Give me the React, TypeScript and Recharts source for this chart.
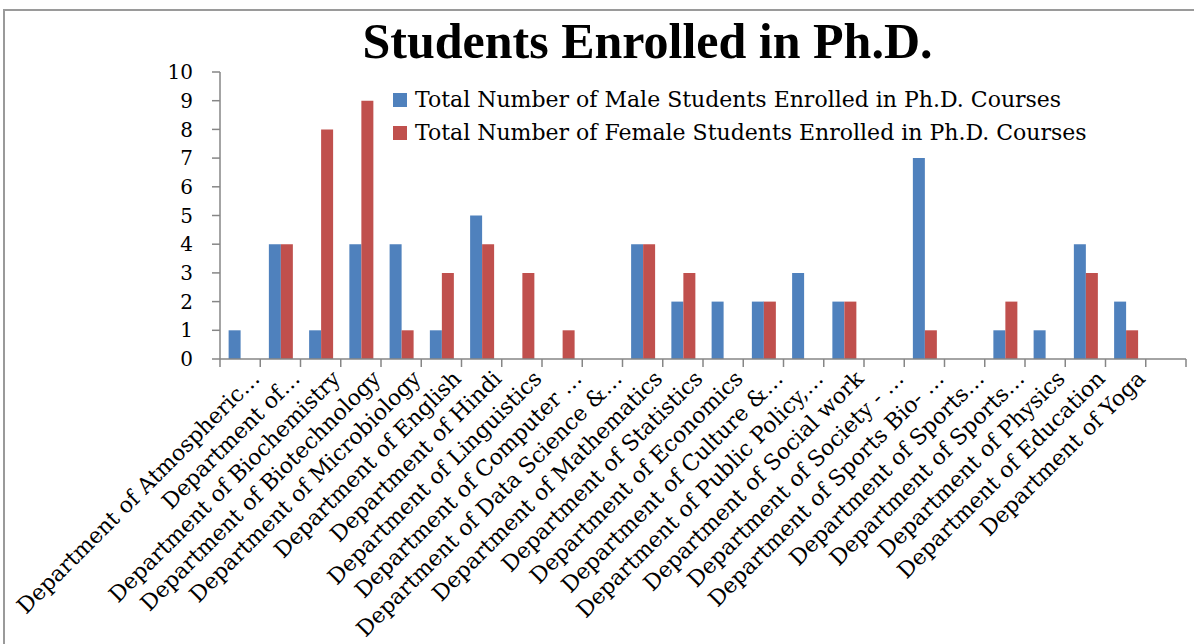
import React from 'react';
import { BarChart, Bar, XAxis, YAxis, Legend } from 'recharts';

const departments = [
  'Department of Atmospheric…',
  'Department of…',
  'Department of Biochemistry',
  'Department of Biotechnology',
  'Department of Microbiology',
  'Department of English',
  'Department of Hindi',
  'Department of Linguistics',
  'Department of Computer …',
  'Department of Data Science &…',
  'Department of Mathematics',
  'Department of Statistics',
  'Department of Economics',
  'Department of Culture &…',
  'Department of Public Policy,…',
  'Department of Social work',
  'Department of Society - …',
  'Department of Sports Bio- …',
  'Department of Sports…',
  'Department of Sports…',
  'Department of Physics',
  'Department of Education',
  'Department of Yoga',
  '',
];

const maleCounts = [1, 4, 1, 4, 4, 1, 5, 0, 0, 0, 4, 2, 2, 2, 3, 2, 0, 7, 0, 1, 1, 4, 2, 0];
const femaleCounts = [0, 4, 8, 9, 1, 3, 4, 3, 1, 0, 4, 3, 0, 2, 0, 2, 0, 1, 0, 2, 0, 3, 1, 0];

const yTicks = [0, 1, 2, 3, 4, 5, 6, 7, 8, 9, 10];

const seriesKeys = ['male', 'female'];
const maleName = 'Total Number of Male Students Enrolled in Ph.D. Courses';
const femaleName = 'Total Number of Female Students Enrolled in Ph.D. Courses';

const data = departments.map((d, i) => ({
  idx: i,
  male: maleCounts[i],
  female: femaleCounts[i],
}));

const W = 1194;
const H = 644;
const M = { top: 72, right: 8, left: 160, bottom: 0 };
const Y_W = 60;
const X_H = 285;
const plotW = W - M.left - M.right - Y_W;
const band = plotW / departments.length;
const AXIS = '#868686';
const FONT = '"DejaVu Serif", serif';

const XTick = (props: any) => {
  const { x, y, payload } = props;
  const i = payload.value as number;
  const label = departments[i] ?? '';
  return (
    <g>
      <line x1={x - band / 2} x2={x - band / 2} y1={y} y2={y + 8} stroke={AXIS} strokeWidth={1.5} />
      {i === departments.length - 1 && (
        <line x1={x + band / 2} x2={x + band / 2} y1={y} y2={y + 8} stroke={AXIS} strokeWidth={1.5} />
      )}
      {label && (
        <text
          transform={`translate(${x + 21},${y + 21}) rotate(-45)`}
          textAnchor="end"
          fontFamily={FONT}
          fontSize={22}
          fill="#000"
        >
          {label}
        </text>
      )}
    </g>
  );
};

const renderLegend = (props: any) => {
  const payload = [...(props.payload || [])].sort(
    (a: any, b: any) => seriesKeys.indexOf(a.dataKey) - seriesKeys.indexOf(b.dataKey)
  );
  return (
    <div style={{ fontFamily: FONT, fontSize: 22, color: '#000' }}>
      {payload.map((p: any, k: number) => (
        <div key={k} style={{ display: 'flex', alignItems: 'center', height: 33, whiteSpace: 'nowrap' }}>
          <span style={{ display: 'inline-block', width: 14, height: 14, background: p.color, marginRight: 8 }} />
          <span>{p.value}</span>
        </div>
      ))}
    </div>
  );
};

export default function App() {
  return (
    <div style={{ position: 'fixed', left: 0, top: 0, width: W, height: H, background: '#fff', overflow: 'hidden' }}>
      <div
        style={{
          position: 'absolute',
          left: 3,
          top: 9,
          width: W,
          height: H,
          borderTop: `2px solid #9a9a9a`,
          borderLeft: `2px solid #9a9a9a`,
          boxSizing: 'border-box',
        }}
      />
      <div
        style={{
          position: 'absolute',
          left: 0,
          top: 16,
          width: 1295,
          textAlign: 'center',
          fontFamily: '"Liberation Serif", serif',
          fontWeight: 'bold',
          fontSize: 50,
          lineHeight: '50px',
          color: '#000',
        }}
      >
        Students Enrolled in Ph.D.
      </div>
      <div style={{ position: 'absolute', left: 0, top: 0 }}>
        <BarChart width={W} height={H} data={data} margin={M} barCategoryGap="21.4%" barGap={0}>
          <XAxis
            dataKey="idx"
            type="category"
            height={X_H}
            interval={0}
            tickSize={0}
            tickMargin={0}
            tickLine={false}
            axisLine={{ stroke: AXIS, strokeWidth: 1.5 }}
            tick={<XTick />}
          />
          <YAxis
            width={Y_W}
            domain={[0, 10]}
            ticks={yTicks}
            interval={0}
            tickSize={8}
            tickMargin={19}
            axisLine={{ stroke: AXIS, strokeWidth: 1.5 }}
            tickLine={{ stroke: AXIS, strokeWidth: 1.5 }}
            tick={{ fontFamily: FONT, fontSize: 20, fill: '#000' }}
          />
          <Legend
            layout="vertical"
            align="center"
            verticalAlign="middle"
            content={renderLegend}
            wrapperStyle={{ left: 393, top: 83, width: 760 }}
          />
          <Bar dataKey="male" name={maleName} fill="#4F81BD" isAnimationActive={false} />
          <Bar dataKey="female" name={femaleName} fill="#C0504D" isAnimationActive={false} />
        </BarChart>
      </div>
    </div>
  );
}
